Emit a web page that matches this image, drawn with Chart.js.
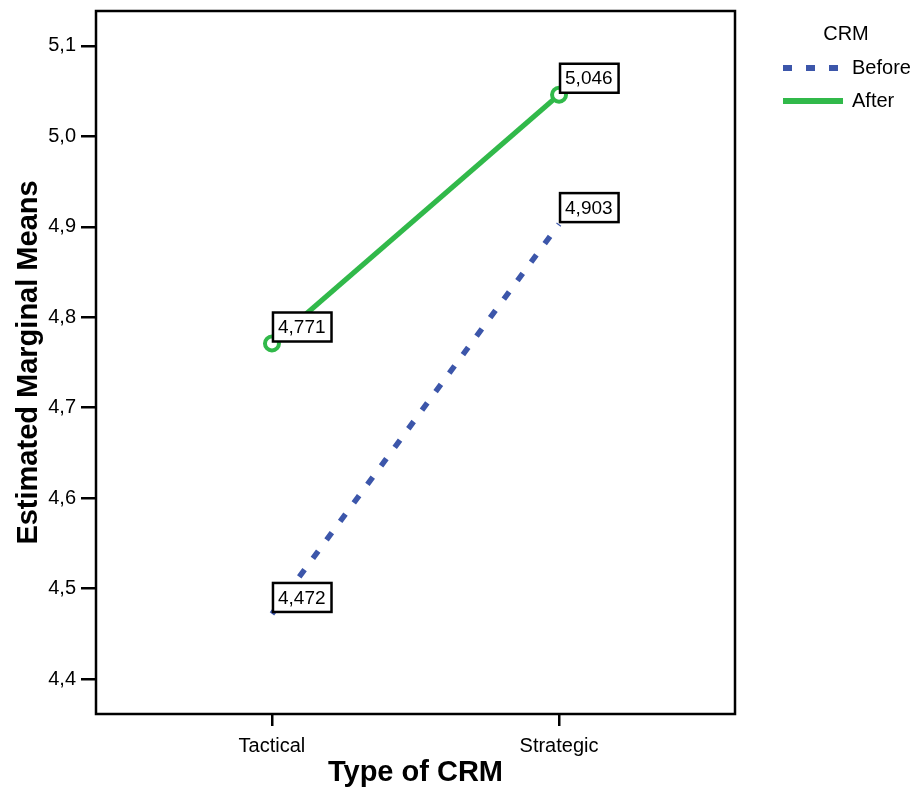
<!DOCTYPE html>
<html>
<head>
<meta charset="utf-8">
<script src="https://cdn.jsdelivr.net/npm/chart.js@4/dist/chart.umd.min.js"></script>
<style>
  html, body { margin: 0; padding: 0; background: #fff; }
  canvas { display: block; }
</style>
</head>
<body>
<canvas id="emmChart" width="916" height="797"></canvas>
<script>
const crmTypes = ['Tactical', 'Strategic'];
const seriesNames = ['Before', 'After'];
const beforeMeans = [4.472, 4.903];
const afterMeans = [4.771, 5.046];
const yTicks = [4.4, 4.5, 4.6, 4.7, 4.8, 4.9, 5.0, 5.1];

const blue = '#3C56AA';
const green = '#31B94A';
const fontFam = "'Liberation Sans', Arial, sans-serif";

const comma = (v, d) => v.toFixed(d).replace('.', ',');

// frame around the plot area
const framePlugin = {
    id: 'frame',
    afterDraw(chart) {
        const {ctx, chartArea: a} = chart;
        ctx.save();
        ctx.strokeStyle = '#000';
        ctx.lineWidth = 2.5;
        ctx.strokeRect(a.left, a.top, a.right - a.left, a.bottom - a.top);
        ctx.restore();
    }
};

// boxed value labels next to each point
const boxLabels = {
    id: 'boxLabels',
    afterDatasetsDraw(chart) {
        const ctx = chart.ctx;
        ctx.save();
        ctx.font = '19px ' + fontFam;
        ctx.textBaseline = 'middle';
        chart.data.datasets.forEach((ds, i) => {
            chart.getDatasetMeta(i).data.forEach((pt, j) => {
                const txt = comma(ds.data[j].y, 3);
                const w = ctx.measureText(txt).width + 11;
                const h = 29;
                const x = pt.x + 1;
                const y = pt.y - 2 - h;
                ctx.fillStyle = '#fff';
                ctx.fillRect(x, y, w, h);
                ctx.strokeStyle = '#000';
                ctx.lineWidth = 2.5;
                ctx.strokeRect(x, y, w, h);
                ctx.fillStyle = '#000';
                ctx.fillText(txt, x + 5, y + h / 2 + 1);
            });
        });
        ctx.restore();
    }
};

// legend on the right, SPSS style
const sideLegend = {
    id: 'sideLegend',
    afterDraw(chart) {
        const ctx = chart.ctx;
        ctx.save();
        ctx.font = '20px ' + fontFam;
        ctx.fillStyle = '#000';
        ctx.textBaseline = 'middle';
        ctx.textAlign = 'center';
        ctx.fillText('CRM', 846, 34);
        ctx.textAlign = 'left';
        const rows = [68, 101];
        chart.data.datasets.forEach((ds, i) => {
            ctx.beginPath();
            ctx.strokeStyle = ds.borderColor;
            ctx.lineWidth = 6;
            ctx.setLineDash(ds.borderDash || []);
            ctx.moveTo(783, rows[i]);
            ctx.lineTo(843, rows[i]);
            ctx.stroke();
            ctx.setLineDash([]);
            ctx.fillText(ds.label, 852, rows[i]);
        });
        ctx.restore();
    }
};

new Chart(document.getElementById('emmChart').getContext('2d'), {
    type: 'line',
    data: {
        datasets: [
            {
                label: seriesNames[0],
                data: beforeMeans.map((v, i) => ({x: i, y: v})),
                borderColor: blue,
                borderWidth: 5.5,
                borderDash: [9, 14],
                pointRadius: 0,
                fill: false,
                tension: 0
            },
            {
                label: seriesNames[1],
                data: afterMeans.map((v, i) => ({x: i, y: v})),
                borderColor: green,
                borderWidth: 5,
                pointRadius: 7,
                pointBorderWidth: 4,
                pointBorderColor: green,
                pointBackgroundColor: '#fff',
                fill: false,
                tension: 0
            }
        ]
    },
    options: {
        responsive: false,
        animation: false,
        layout: {padding: {top: 10, right: 181, left: 0, bottom: 0}},
        plugins: {
            legend: {display: false},
            tooltip: {enabled: false}
        },
        scales: {
            x: {
                type: 'linear',
                min: -0.613,
                max: 1.613,
                afterBuildTicks: s => { s.ticks = crmTypes.map((c, i) => ({value: i})); },
                afterFit: s => { s.height = 83; s.paddingLeft = 0; s.paddingRight = 0; },
                border: {display: false},
                grid: {drawOnChartArea: false, drawTicks: true, tickLength: 12, color: '#000', lineWidth: 2.5},
                ticks: {
                    color: '#000',
                    padding: 8,
                    maxRotation: 0,
                    font: {family: fontFam, size: 20},
                    callback: v => crmTypes[v]
                },
                title: {
                    display: true,
                    text: 'Type of CRM',
                    color: '#000',
                    padding: {top: 0, bottom: 7},
                    font: {family: fontFam, size: 29, weight: 'bold'}
                }
            },
            y: {
                min: 4.3614,
                max: 5.1386,
                afterBuildTicks: s => { s.ticks = yTicks.map(v => ({value: v})); },
                afterFit: s => { s.width = 96; s.paddingTop = 0; s.paddingBottom = 0; },
                border: {display: false},
                grid: {drawOnChartArea: false, drawTicks: true, tickLength: 15, color: '#000', lineWidth: 2.5},
                ticks: {
                    color: '#000',
                    padding: 5,
                    font: {family: fontFam, size: 20},
                    callback: v => comma(v, 1)
                },
                title: {
                    display: true,
                    text: 'Estimated Marginal Means',
                    color: '#000',
                    padding: {top: 12, bottom: 0},
                    font: {family: fontFam, size: 29, weight: 'bold'}
                }
            }
        }
    },
    plugins: [framePlugin, boxLabels, sideLegend]
});
</script>
</body>
</html>
